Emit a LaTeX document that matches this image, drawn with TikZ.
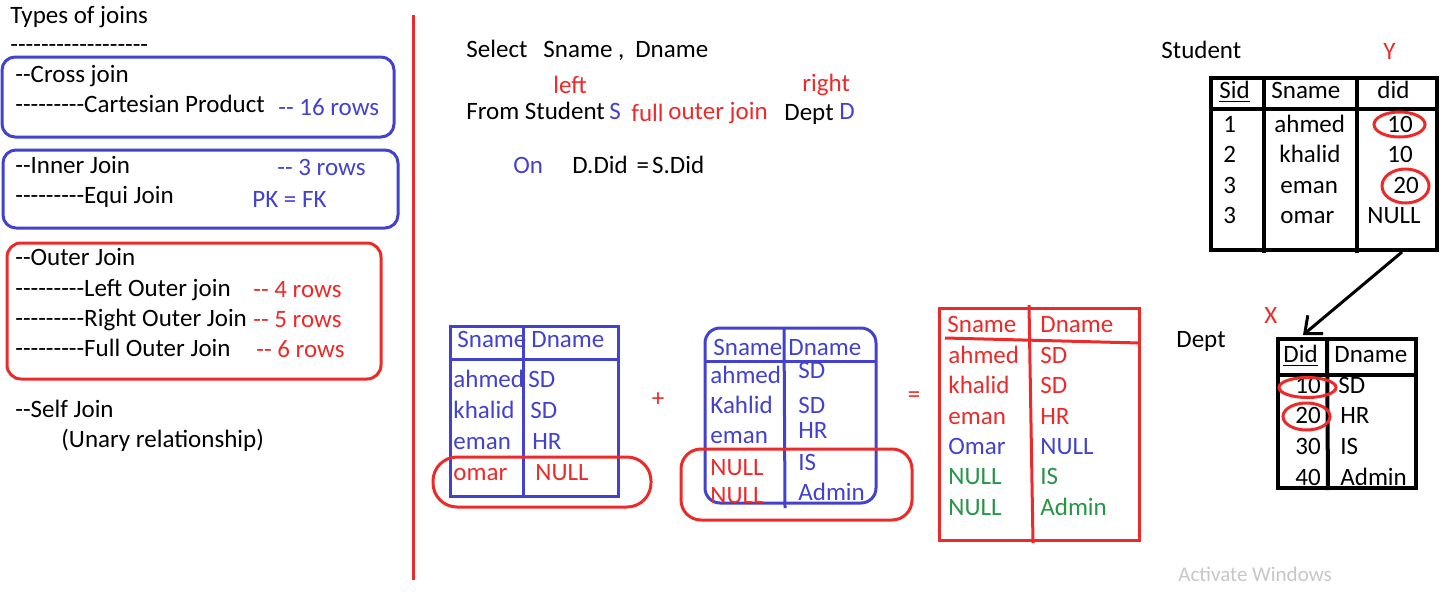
\documentclass[tikz,border=0pt]{standalone}
\usepackage{fontspec}
\usetikzlibrary{arrows.meta, positioning, calc, fit, shapes.geometric}
\newfontfamily\joinfont{Carlito}
\definecolor{jblue}{RGB}{66,66,206}
\definecolor{jred}{RGB}{236,42,42}
\definecolor{jgreen}{RGB}{36,150,70}
\tikzstyle{txt} = [inner sep=0pt, anchor=base west, font=\joinfont\fontsize{12.5}{15}\selectfont]
\tikzstyle{bluetxt} = [txt, text=jblue]
\tikzstyle{redtxt} = [txt, text=jred]
\tikzstyle{greentxt} = [txt, text=jgreen]
\tikzstyle{bluebox} = [draw=jblue, line width=1.5pt, rounded corners=6.5pt, inner sep=0pt]
\tikzstyle{redbox} = [draw=jred, line width=1.5pt, rounded corners=7pt, inner sep=0pt]
\tikzstyle{blueline} = [draw=jblue, line width=1.5pt]
\tikzstyle{redline} = [draw=jred, line width=1.5pt]
\tikzstyle{blackline} = [draw=black, line width=2pt]
\tikzstyle{tblframe} = [draw=black, line width=2pt, inner sep=0pt]
\tikzstyle{redring} = [ellipse, draw=jred, line width=1.5pt, inner sep=0pt]
\tikzstyle{arrow} = [line width=1.5pt, -{Straight Barb[length=7pt, width=12pt]}]

\begin{document}
\begin{tikzpicture}[x=0.5pt, y=-0.5pt]
                \useasboundingbox [fill=white] (0,0) rectangle (1455,595);

                % left column: kinds of joins
                \node (types) [txt] at (10,23) {Types of joins};
                \node (typesdash) [txt] at (10,52) {------------------};
                \node (crossbox) [bluebox, fit={(2,57) (394,137)}] {};
                \node (cross) [txt] at (15,82) {--Cross join};
                \node (cartesian) [txt] at (15,112) {---------Cartesian Product};
                \node (crossrows) [bluetxt] at (278,115) {-- 16 rows};
                \node (innerbox) [bluebox, fit={(3,150) (398,228)}] {};
                \node (inner) [txt] at (15,173) {--Inner Join};
                \node (innerrows) [bluetxt] at (277,175) {-- 3 rows};
                \node (equi) [txt] at (15,203) {---------Equi Join};
                \node (pkfk) [bluetxt] at (252,207) {PK = FK};
                \node (outerbox) [redbox, fit={(7,243) (381,379)}] {};
                \node (outer) [txt] at (15,265) {--Outer Join};
                \node (leftouter) [txt] at (15,296) {---------Left Outer join};
                \node (leftrows) [redtxt] at (253,297) {-- 4 rows};
                \node (rightouter) [txt] at (15,326) {---------Right Outer Join};
                \node (rightrows) [redtxt] at (253,327) {-- 5 rows};
                \node (fullouter) [txt] at (15,356) {---------Full Outer Join};
                \node (fullrows) [redtxt] at (256,357) {-- 6 rows};
                \node (self) [txt] at (15,417) {--Self Join};
                \node (unary) [txt] at (61,447) {(Unary relationship)};

                \draw [redline] (413,15) -- (413,580);

                % the query
                \node (select) [txt] at (466,57) {Select\hspace{8pt}Sname ,\hspace{5.5pt}Dname};
                \node (leftword) [redtxt] at (553,93) {left};
                \node (rightword) [redtxt] at (802,91) {right};
                \node (from) [txt] at (466,119) {From Student};
                \node (alias) [bluetxt] at (609,119) {S};
                \node (full) [redtxt] at (631,121) {full};
                \node (outerjoin) [redtxt] at (668,119) {outer join};
                \node (dept) [txt] at (784,120) {Dept};
                \node (deptalias) [bluetxt] at (839,119) {D};
                \node (on) [bluetxt] at (513,173) {On};
                \node (cond) [txt] at (572,173) {D.Did\hspace{4.5pt}=\hspace{1.5pt}S.Did};

                % left outer join result
                \node (tblone) [draw=jblue, line width=1.5pt, inner sep=0pt, fit={(450,326) (618,496)}] {};
                \draw [blueline] (450,359) -- (620,359);
                \draw [blueline] (523,326) -- (523,497);
                \node (oneh1) [bluetxt] at (457,347) {Sname};
                \node (oneh2) [bluetxt] at (531,347) {Dname};
                \node (onea) [bluetxt] at (453,387) {ahmed};
                \node (oneb) [bluetxt] at (453,418) {khalid};
                \node (onec) [bluetxt] at (453,449) {eman};
                \node (oned) [redtxt] at (453,480) {omar};
                \node (onesd1) [bluetxt] at (528,387) {SD};
                \node (onesd2) [bluetxt] at (530,418) {SD};
                \node (onehr) [bluetxt] at (532,449) {HR};
                \node (onenull) [redtxt] at (535,480) {NULL};
                \node (omarring) [redbox, rounded corners=12pt, fit={(433,457) (651,507)}] {};

                \node (plus) [redtxt, anchor=center] at (658,400) {+};

                % right outer join result
                \node (tbltwo) [bluebox, rounded corners=7.5pt, fit={(705,328) (876,503)}] {};
                \draw [blueline] (705,361) -- (876,361);
                \draw [blueline] (784,328) -- (785,508);
                \node (twoh1) [bluetxt] at (713,355) {Sname};
                \node (twoh2) [bluetxt] at (788,355) {Dname};
                \node (twoa) [bluetxt] at (710,383) {ahmed};
                \node (twob) [bluetxt] at (710,413) {Kahlid};
                \node (twoc) [bluetxt] at (710,443) {eman};
                \node (twod) [redtxt] at (710,475) {NULL};
                \node (twoe) [redtxt] at (710,503) {NULL};
                \node (twosd1) [bluetxt] at (798,378) {SD};
                \node (twosd2) [bluetxt] at (798,413) {SD};
                \node (twohr) [bluetxt] at (798,438) {HR};
                \node (twois) [bluetxt] at (798,470) {IS};
                \node (twoadmin) [bluetxt] at (798,500) {Admin};
                \node (nullring) [redbox, rounded corners=10pt, fit={(681,449) (912,520)}] {};

                \node (equals) [redtxt, anchor=center] at (914,397) {=};

                % full outer join result
                \node (tblthree) [draw=jred, line width=1.5pt, inner sep=0pt, fit={(939,308) (1139,540)}] {};
                \draw [redline] (945,338) -- (1140,343);
                \draw [redline] (1029,305) -- (1033,543);
                \node (threeh1) [redtxt] at (947,332) {Sname};
                \node (threeh2) [redtxt] at (1040,332) {Dname};
                \node (threea) [redtxt] at (948,363) {ahmed};
                \node (threeb) [redtxt] at (948,393) {khalid};
                \node (threec) [redtxt] at (948,424) {eman};
                \node (threed) [bluetxt] at (948,454) {Omar};
                \node (threee) [greentxt] at (948,484) {NULL};
                \node (threef) [greentxt] at (948,515) {NULL};
                \node (threesd1) [redtxt] at (1040,363) {SD};
                \node (threesd2) [redtxt] at (1040,393) {SD};
                \node (threehr) [redtxt] at (1040,424) {HR};
                \node (threenull) [bluetxt] at (1040,454) {NULL};
                \node (threeis) [greentxt] at (1040,484) {IS};
                \node (threeadmin) [greentxt] at (1040,515) {Admin};

                % Student table
                \node (stulabel) [txt] at (1161,58) {Student};
                \node (ylabel) [redtxt] at (1383,59) {Y};
                \node (stutbl) [tblframe, fit={(1211,78) (1437,250)}] {};
                \draw [blackline] (1211,109) -- (1437,109);
                \draw [blackline] (1264,78) -- (1264,253);
                \draw [blackline] (1357,78) -- (1357,253);
                \node (stusid) [txt] at (1219,98) {\underline{Sid}};
                \node (stusname) [txt] at (1271,98) {Sname};
                \node (studid) [txt] at (1377,98) {did};
                \node (stu1) [txt] at (1223,132) {1};
                \node (stu2) [txt] at (1223,162) {2};
                \node (stu3) [txt] at (1223,193) {3};
                \node (stu4) [txt] at (1223,223) {3};
                \node (stuahmed) [txt] at (1274,132) {ahmed};
                \node (stukhalid) [txt] at (1279,162) {khalid};
                \node (stueman) [txt] at (1280,193) {eman};
                \node (stuomar) [txt] at (1280,223) {omar};
                \node (stud1) [txt] at (1387,132) {10};
                \node (stud2) [txt] at (1387,162) {10};
                \node (stud3) [txt] at (1393,193) {20};
                \node (stud4) [txt] at (1367,223) {NULL};
                \node (ringy1) [redring, minimum width=25.5pt, minimum height=12.5pt] at (1399.5,124.5) {};
                \node (ringy2) [redring, minimum width=23.5pt, minimum height=17pt] at (1405.5,186) {};

                % Dept table
                \node (deptlabel) [txt] at (1176,347) {Dept};
                \node (xlabel) [redtxt] at (1264,323) {X};
                \node (depttbl) [tblframe, fit={(1278,339) (1416,488)}] {};
                \draw [blackline] (1279,375) -- (1416,375);
                \draw [blackline] (1327,339) -- (1328,490);
                \node (deptdid) [txt] at (1283,362) {\underline{Did}};
                \node (deptdname) [txt] at (1334,362) {Dname};
                \node (dept10) [txt] at (1295,393) {10};
                \node (dept20) [txt] at (1295,423) {20};
                \node (dept30) [txt] at (1295,454) {30};
                \node (dept40) [txt] at (1295,485) {40};
                \node (deptsd) [txt] at (1338,393) {SD};
                \node (depthr) [txt] at (1340,423) {HR};
                \node (deptis) [txt] at (1340,454) {IS};
                \node (deptadmin) [txt] at (1340,485) {Admin};
                \node (ringx1) [redring, minimum width=28.5pt, minimum height=10pt] at (1307.5,387.5) {};
                \node (ringx2) [redring, minimum width=23.5pt, minimum height=13.5pt] at (1306.5,416.5) {};

                \draw [arrow] ($(stutbl.south east)+(-37,0)$) -- ($(depttbl.north west)+(27,-2)$);

                \node (activate) [txt, text=black!22, font=\joinfont\fontsize{10.5}{12}\selectfont] at (1178,581) {Activate Windows};
            \end{tikzpicture}
\end{document}
